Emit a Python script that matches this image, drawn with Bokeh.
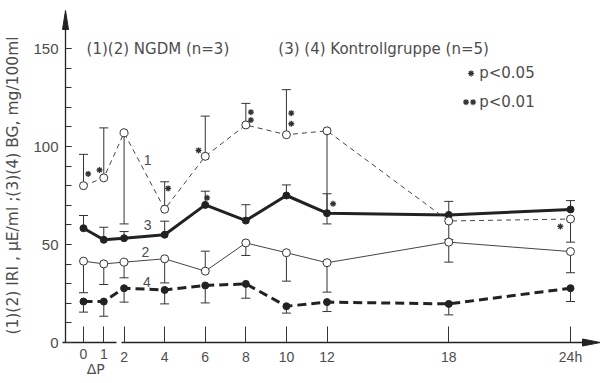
import math
from bokeh.plotting import figure
from bokeh.models import (ColumnDataSource, Whisker, TeeHead, Label, FixedTicker,
                          LinearAxis)
from bokeh.embed import file_html
from bokeh.resources import INLINE

# ---------------- data ----------------
hours = [0, 1, 2, 4, 6, 8, 10, 12, 18, 24]
x_ticks_left = [0, 1]
x_ticks_right = [2, 4, 6, 8, 10, 12, 18, 24]
x_tick_labels = {24: "24h"}
y_major_ticks = [0, 50, 100, 150]
y_minor_ticks = list(range(0, 160, 10))

# (1) IRI, NGDM  (thin dashed, open circles)
s1 = [80, 84, 107, 68, 95, 111, 106, 108, 62, 63]
s1_upper = [96, 109.5, None, 82, 115.5, 122, 129, None, None, None]
s1_lower = [None, None, 60.5, None, None, None, None, 60.5, 52.5, 51.2]

# (2) IRI, Kontrollgruppe (thin solid, open circles)
s2 = [41.5, 40.1, 41, 42.7, 36.4, 50.8, 45.8, 40.7, 51.2, 46.4]
s2_upper = [None, None, None, None, 46.6, None, None, None, None, None]
s2_lower = [25.4, 29.6, 33, 30.4, None, 44.4, 31.3, 25.7, 41, 35.6]

# (3) BG, NGDM (thick solid, filled circles)
s3 = [58.3, 52.4, 53.2, 55, 70.2, 62.2, 75, 66, 65.1, 67.9]
s3_upper = [64.8, 58.8, 56.6, 61.9, 77.2, 70.3, 80.4, 75.9, 72, 72.4]

# (4) BG, Kontrollgruppe (thick dashed, filled circles)
s4 = [20.9, 20.9, 27.7, 26.8, 29.1, 29.9, 18.5, 20.6, 19.7, 27.7]
s4_lower = [15.5, 13.4, 20.6, 19.7, 20.2, 22.6, 15, 15.8, 14.1, 20.9]

# significance marks (*)
sig_x = [0.23, 0.79, 4.17, 5.67, 8.25, 8.25, 10.24, 10.24, 6.09, 12.3, 23.5]
sig_y = [86, 88, 78.6, 98, 117.5, 113.5, 117, 111.6, 73.8, 70.8, 59.2]
legend_star_x = [19.1, 18.85, 19.2]
legend_star_y = [137.3, 122.6, 122.6]

FONT = "DejaVu Sans"
TICK_FONT = "Liberation Sans"
TXT = "#4d4d4d"
INK = "#222222"

W, H = 600, 380
KX = 487 / 24.0          # px per hour
KY = 294 / 150.0         # px per unit
X0 = -83 / KX
Y1 = 342 / KY
p = figure(width=W, height=H, x_range=(X0, X0 + W / KX), y_range=(Y1 - H / KY, Y1),
           output_backend="svg", toolbar_location=None, title=None,
           min_border_left=0, min_border_right=0, min_border_top=0,
           min_border_bottom=0)
p.grid.visible = False
p.outline_line_color = None
p.background_fill_color = "white"
p.border_fill_color = "white"

YAX = (65 - 83) / KX     # hour position of the vertical axis
X_ARROW_TIP = (600 - 83) / KX
X_ARROW_BASE = (582 - 83) / KX
Y_ARROW_TIP = (342 - 10) / KY
Y_ARROW_BASE = (342 - 29) / KY


def style_x(ax):
    ax.fixed_location = 0
    ax.major_label_overrides = x_tick_labels
    ax.major_tick_in = 16
    ax.major_tick_out = 0
    ax.minor_tick_line_color = None
    ax.axis_line_width = 1.3
    ax.axis_line_color = INK
    ax.major_tick_line_color = "#333333"
    ax.major_label_text_font = TICK_FONT
    ax.major_label_text_font_size = "14px"
    ax.major_label_text_color = TXT
    ax.major_label_standoff = 6


# x axis, drawn in two pieces with a break between 1 and 2
xa = p.xaxis[0]
style_x(xa)
xa.bounds = ((62 - 83) / KX, (116 - 83) / KX)
xa.ticker = FixedTicker(ticks=x_ticks_left)
xb = LinearAxis()
style_x(xb)
xb.bounds = ((121 - 83) / KX, X_ARROW_BASE)
xb.ticker = FixedTicker(ticks=x_ticks_right)
p.add_layout(xb, "below")

ya = p.yaxis[0]
ya.fixed_location = YAX
ya.bounds = (0, Y_ARROW_BASE)
ya.ticker = FixedTicker(ticks=y_major_ticks, minor_ticks=y_minor_ticks)
ya.major_tick_in = 6
ya.major_tick_out = 0
ya.minor_tick_in = 6
ya.minor_tick_out = 0
ya.axis_line_width = 1.3
ya.axis_line_color = INK
ya.major_tick_line_color = "#333333"
ya.minor_tick_line_color = "#333333"
ya.major_label_text_font = TICK_FONT
ya.major_label_text_font_size = "15px"
ya.major_label_text_color = TXT
ya.major_label_standoff = 7

# axis arrow heads
hx = 3.0 / KX
hy = 3.5 / KY
p.patch([YAX - hx, YAX, YAX + hx], [Y_ARROW_BASE, Y_ARROW_TIP, Y_ARROW_BASE],
        fill_color=INK, line_color=INK, line_width=1)
p.patch([X_ARROW_BASE, X_ARROW_TIP, X_ARROW_BASE], [-hy, 0, hy],
        fill_color=INK, line_color=INK, line_width=1)


def whiskers(vals, ends, up, color="#333333"):
    xs, lo, hi = [], [], []
    for h, v, e in zip(hours, vals, ends):
        if e is None:
            continue
        xs.append(h)
        lo.append(v if up else e)
        hi.append(e if up else v)
    src = ColumnDataSource(dict(x=xs, lo=lo, hi=hi))
    head = TeeHead(size=9, line_color=color, line_width=1)
    w = Whisker(source=src, base="x", lower="lo", upper="hi", dimension="height",
                line_color=color, line_width=1,
                upper_head=head if up else None,
                lower_head=None if up else head)
    p.add_layout(w)


whiskers(s1, s1_upper, True)
whiskers(s1, s1_lower, False)
whiskers(s2, s2_upper, True)
whiskers(s2, s2_lower, False)
whiskers(s3, s3_upper, True)
whiskers(s4, s4_lower, False)

# lines
p.line(hours, s4, line_color=INK, line_width=3, line_dash="9 5")
p.line(hours, s3, line_color=INK, line_width=3)
p.line(hours, s2, line_color="#444444", line_width=1)
p.line(hours, s1, line_color="#444444", line_width=1, line_dash="5 4")

# markers
p.scatter(hours, s4, size=7, fill_color=INK, line_color=INK)
p.scatter(hours, s3, size=7, fill_color=INK, line_color=INK)
p.scatter(hours, s2, size=8, fill_color="white", line_color="#333333", line_width=1)
p.scatter(hours, s1, size=8, fill_color="white", line_color="#333333", line_width=1)

# significance stars
p.scatter(sig_x, sig_y, marker="asterisk", size=6, line_color="#333333", line_width=1.3)
p.scatter(legend_star_x, legend_star_y, marker="asterisk", size=6,
          line_color="#333333", line_width=1.3)


def lab(x, y, text, size="15px", align="left", angle=0.0, font=FONT):
    p.add_layout(Label(x=x, y=y, text=text, text_font=font, text_font_size=size,
                       text_color=TXT, text_align=align, text_baseline="middle",
                       angle=angle))


lab(0.15, 149.5, "(1)(2)  NGDM (n=3)")
lab(9.6, 149.5, "(3) (4) Kontrollgruppe (n=5)")
lab(19.5, 137.5, "p<0.05")
lab(19.5, 122.5, "p<0.01")
lab(3.16, 93, "1", size="14px", align="center", font=TICK_FONT)
lab(3.16, 59.7, "3", size="14px", align="center", font=TICK_FONT)
lab(3.05, 46, "2", size="14px", align="center", font=TICK_FONT)
lab(3.12, 30.8, "4", size="14px", align="center", font=TICK_FONT)
lab(0.6, (342 - 368) / KY, "ΔP", size="14px", align="center")
lab((12 - 83) / KX, (342 - 185) / KY, "(1)(2) IRI , µE/ml ;(3)(4) BG, mg/100ml",
    size="15.5px", align="center", angle=math.pi / 2)

open("out.html", "w").write(file_html(p, INLINE))
